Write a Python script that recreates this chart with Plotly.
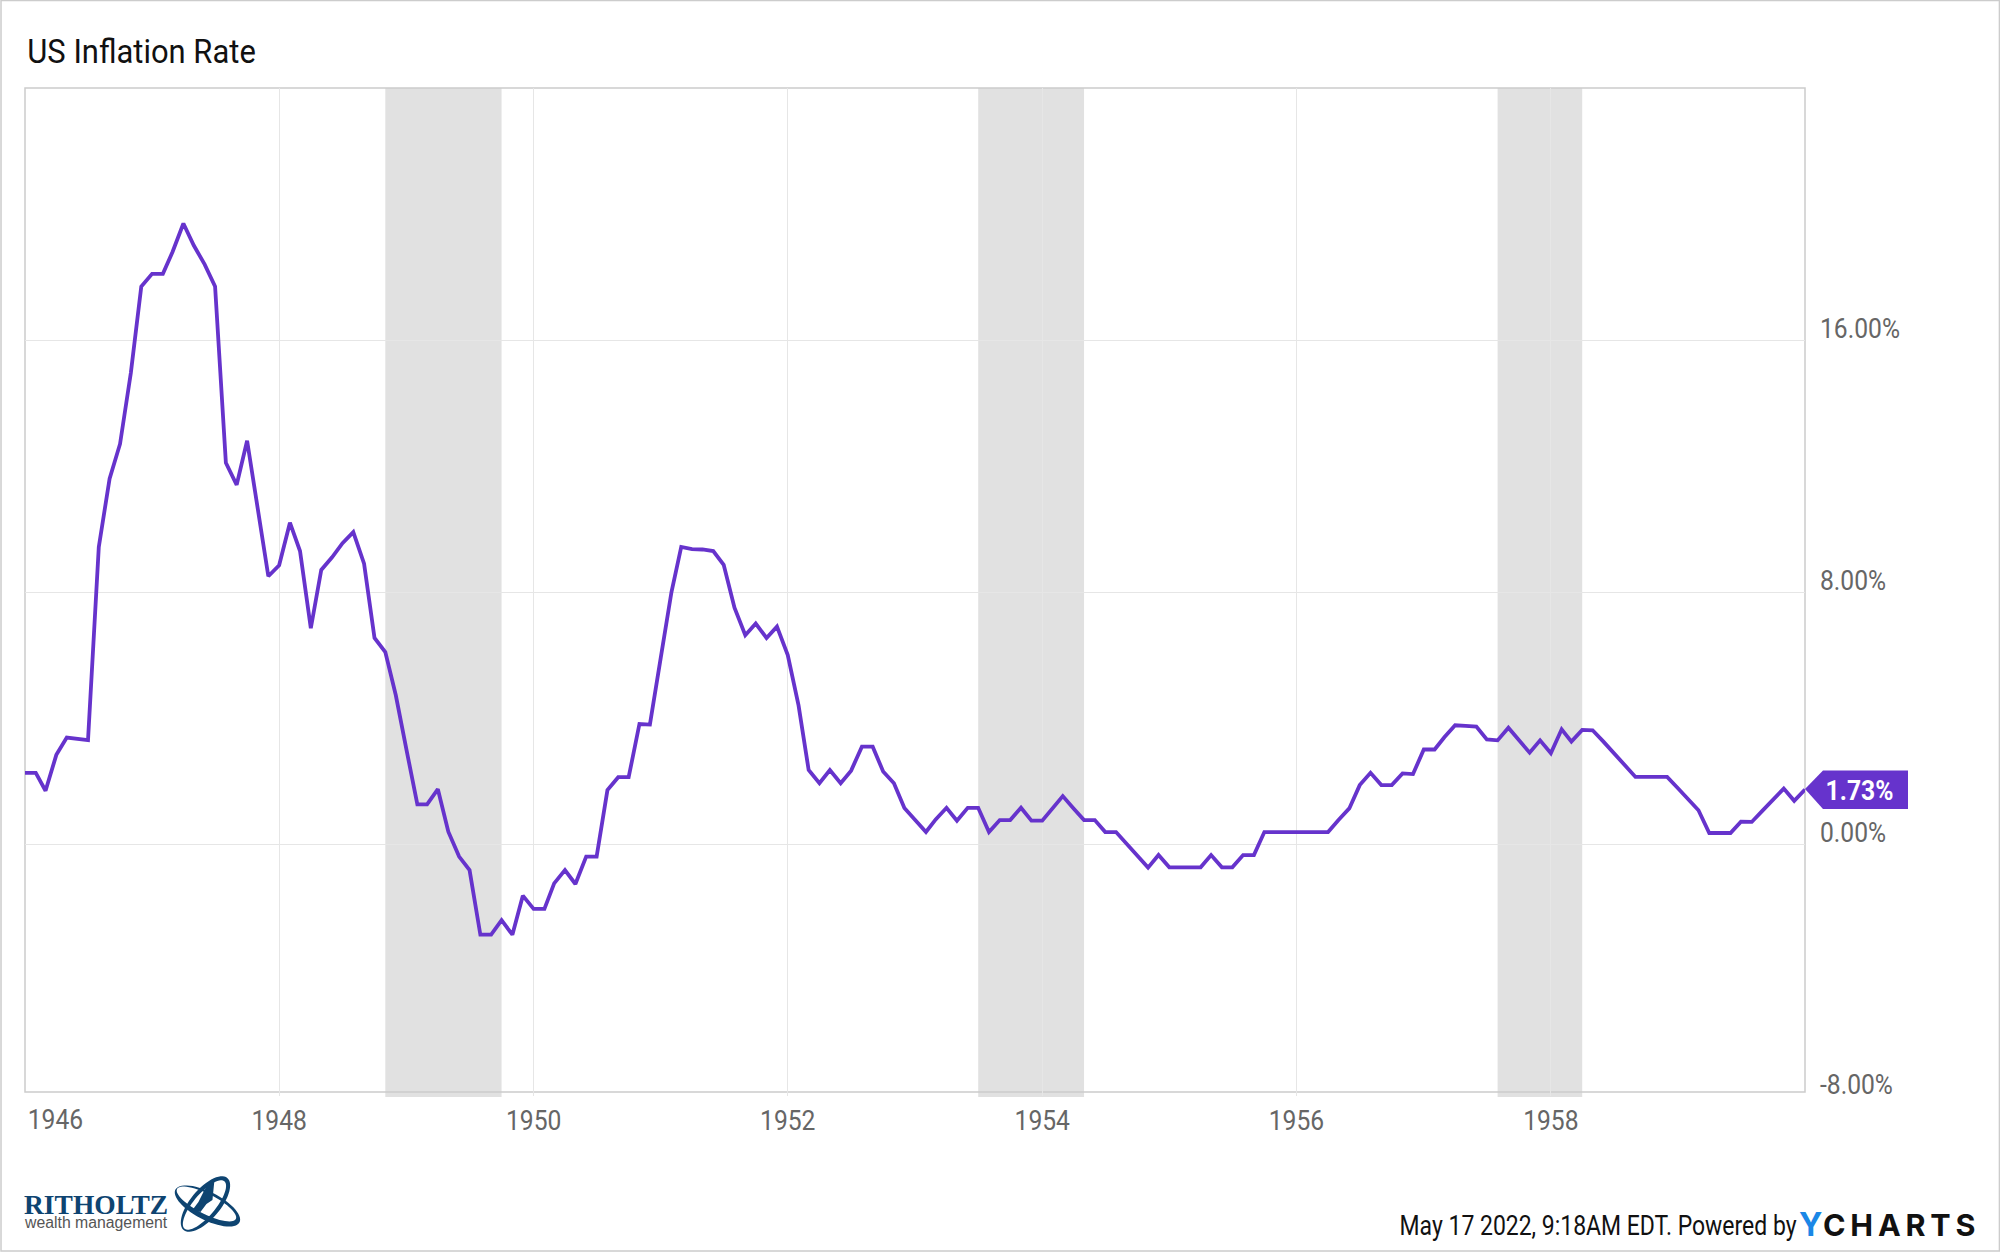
import numpy as np
import pandas as pd
import plotly.graph_objects as go

W, H = 2000, 1253
LEFT, RIGHT, TOP, BOTTOM = 24.5, 1805, 88, 1096

months = pd.date_range("1946-01-01", "1960-01-01", freq="MS")

inflation = [
    2.26, 2.26, 1.69, 2.83, 3.38, 3.34, 3.30, 9.43, 11.6, 12.7, 14.95, 17.7,
    18.1, 18.1, 18.8, 19.7, 19.0, 18.4, 17.7, 12.1, 11.4, 12.8, 10.6, 8.5,
    8.85, 10.2, 9.3, 6.85, 8.7, 9.1, 9.55, 9.9, 8.9, 6.54, 6.09, 4.73,
    2.98, 1.26, 1.26, 1.74, 0.39, -0.40, -0.83, -2.88, -2.88, -2.42, -2.88, -1.64,
    -2.06, -2.06, -1.25, -0.83, -1.27, -0.40, -0.40, 1.71, 2.12, 2.12, 3.81, 3.79,
    5.9, 8.0, 9.43, 9.36, 9.35, 9.3, 8.86, 7.5, 6.63, 7.0, 6.54, 6.9,
    6.0, 4.4, 2.35, 1.93, 2.35, 1.93, 2.33, 3.09, 3.09, 2.3, 1.93, 1.14,
    0.76, 0.38, 0.78, 1.15, 0.74, 1.15, 1.15, 0.38, 0.76, 0.76, 1.15, 0.74,
    0.74, 1.13, 1.52, 1.13, 0.76, 0.76, 0.38, 0.38, 0.0, -0.37, -0.75, -0.35,
    -0.74, -0.74, -0.74, -0.74, -0.35, -0.74, -0.74, -0.35, -0.35, 0.38, 0.38, 0.38,
    0.38, 0.38, 0.38, 0.38, 0.76, 1.13, 1.87, 2.26, 1.87, 1.87, 2.24, 2.22,
    3.0, 3.0, 3.39, 3.77, 3.75, 3.73, 3.32, 3.29, 3.69, 3.31, 2.9, 3.29,
    2.88, 3.64, 3.25, 3.62, 3.61, 3.25, 2.87, 2.5, 2.13, 2.13, 2.13, 2.13,
    1.77, 1.42, 1.07, 0.35, 0.35, 0.35, 0.71, 0.70, 1.06, 1.42, 1.76, 1.37,
    1.73,
]

recession_starts = ["1948-11-01", "1953-07-01", "1957-08-01"]
recession_ends = ["1949-10-01", "1954-05-01", "1958-04-01"]

x_tick_years = ["1946-01-01", "1948-01-01", "1950-01-01", "1952-01-01",
                "1954-01-01", "1956-01-01", "1958-01-01"]
x_tick_labels = ["", "1948", "1950", "1952", "1954", "1956", "1958"]
y_ticks = [-8, 0, 8, 16]
y_tick_labels = ["-8.00%", "0.00%", "8.00%", "16.00%"]

PURPLE = "#6633cc"
NAVY = "#0e4471"
CONDENSED = "Roboto, sans-serif"

# Roboto Condensed is not installed, so the Roboto texts get squeezed in the page
SQUEEZE_JS = """
document.body.style.margin = '0';
document.body.style.overflow = 'hidden';
document.querySelectorAll('.main-svg text').forEach(function (el) {
    if (!el.style.fontFamily.includes('Roboto')) return;
    var s = el.textContent;
    var r = s.startsWith('May') ? 0.82 : s.startsWith('US') ? 0.91 : 0.88;
    el.setAttribute('textLength', el.getComputedTextLength() * r);
    el.setAttribute('lengthAdjust', 'spacingAndGlyphs');
});
"""


# page pixels to paper coordinates
def px(x):
    return (x - LEFT) / (RIGHT - LEFT)


def py(y):
    return (BOTTOM - y) / (BOTTOM - TOP)


def poly(points):
    return "M" + " L".join(f"{px(a):.5f},{py(b):.5f}" for a, b in points) + " Z"


def ellipse(cx, cy, a, b, deg, reverse=False):
    t = np.linspace(0, 2 * np.pi, 60)
    if reverse:
        t = t[::-1]
    r = np.radians(deg)
    xs = cx + a * np.cos(t) * np.cos(r) - b * np.sin(t) * np.sin(r)
    ys = cy + a * np.cos(t) * np.sin(r) + b * np.sin(t) * np.cos(r)
    return poly(list(zip(xs, ys)))


def paper_shape(path, color):
    return dict(type="path", xref="paper", yref="paper", path=path,
                fillcolor=color, line=dict(width=0), layer="above")


def text(x, y, s, size, color, anchor="center", family=CONDENSED, weight=None):
    return dict(xref="paper", yref="paper", x=px(x), y=py(y), text=s,
                showarrow=False, xanchor=anchor, yanchor="middle",
                font=dict(family=family, size=size, color=color, weight=weight))


fig = go.Figure()
fig.add_trace(go.Scatter(x=months, y=inflation, mode="lines",
                         line=dict(color=PURPLE, width=3.8), hoverinfo="skip",
                         showlegend=False, cliponaxis=False))

shapes = []
for start, end in zip(recession_starts, recession_ends):
    shapes.append(dict(type="rect", xref="x", yref="paper", x0=start, x1=end,
                       y0=-0.001, y1=1, fillcolor="#dfdfdf", opacity=0.95,
                       line=dict(width=0), layer="below"))

# chart frame and page border
shapes.append(dict(type="rect", xref="paper", yref="paper", x0=0, x1=1,
                   y0=py(1092), y1=1, line=dict(color="#cccccc", width=1.5),
                   layer="below"))
shapes.append(dict(type="rect", xref="paper", yref="paper", x0=px(0.5), x1=px(W - 0.5),
                   y0=py(H - 2), y1=py(0.5), line=dict(color="#cccccc", width=1.5),
                   layer="below"))

# last value flag
shapes.append(paper_shape(poly([(1805, 789), (1823, 770.5), (1908, 770.5),
                                (1908, 809), (1823, 809)]), PURPLE))

# logo orbits
shapes.append(paper_shape(ellipse(205, 1204, 34, 15, -50)
                          + ellipse(204, 1205, 31, 11, -50, reverse=True), NAVY))
shapes.append(paper_shape(ellipse(207, 1206, 36, 14, 27)
                          + ellipse(206, 1204, 33, 10, 27, reverse=True), NAVY))
shapes.append(paper_shape(poly([(214, 1180), (206, 1186), (198, 1202), (192, 1210),
                                (200, 1212), (206, 1204), (212, 1200), (213, 1190)]), NAVY))

annotations = [
    text(141, 51, "US Inflation Rate", 34, "#111111"),
    text(55.5, 1119, "1946", 28, "#666666"),
    text(1860, 790, "1.73%", 28, "#ffffff", weight="bold"),
    text(21, 1204, "RITHOLTZ", 27.5, NAVY, anchor="left", family="Liberation Serif", weight="bold"),
    text(21, 1222, "wealth management", 15.8, "#555555", anchor="left", family="Liberation Sans"),
    text(1597.5, 1225, "May 17 2022, 9:18AM EDT. Powered by", 28, "#111111"),
    text(1797, 1224, "Y", 32, "#1b87e6", anchor="left", family="Inter", weight="bold"),
    text(1821, 1224, "C\u2009H\u2009A\u2009R\u2009T\u2009S", 30.5, "#111111", anchor="left",
         family="Inter", weight="bold"),
]

fig.update_layout(
    width=W, height=H,
    margin=dict(l=LEFT, r=W - RIGHT, t=TOP, b=H - BOTTOM, pad=0),
    paper_bgcolor="white", plot_bgcolor="white",
    shapes=shapes, annotations=annotations,
)
fig.update_xaxes(
    range=["1946-01-01", "1960-01-01"], tickmode="array",
    tickvals=x_tick_years, ticktext=x_tick_labels, ticks="",
    showgrid=True, gridcolor="#e6e6e6", gridwidth=1, zeroline=False, showline=False,
    ticklabelstandoff=5,
    tickfont=dict(family=CONDENSED, size=28, color="#666666"),
)
fig.update_yaxes(
    range=[-8, 24], side="right", tickmode="array",
    tickvals=y_ticks, ticktext=y_tick_labels, ticks="",
    showgrid=True, gridcolor="#e6e6e6", gridwidth=1, zeroline=False, showline=False,
    ticklabelstandoff=14, ticklabelshift=-12,
    tickfont=dict(family=CONDENSED, size=28, color="#666666"),
)

fig.write_html("out.html", include_plotlyjs=True, config=dict(displayModeBar=False),
               post_script=SQUEEZE_JS)
